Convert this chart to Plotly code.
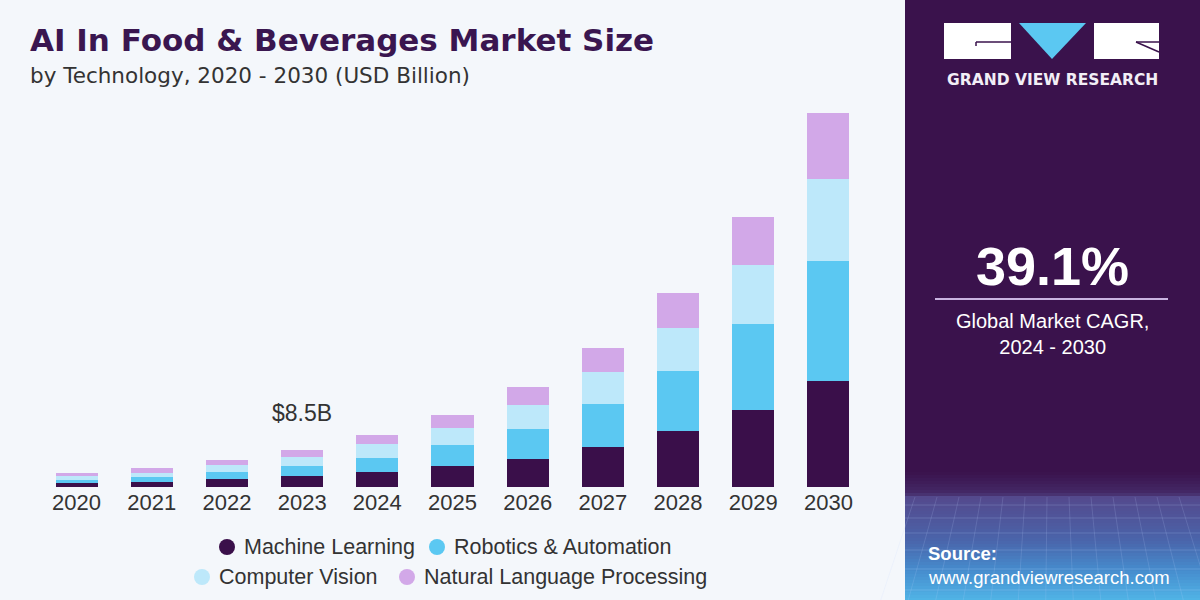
import plotly.graph_objects as go

years = ["2020", "2021", "2022", "2023", "2024", "2025", "2026", "2027", "2028", "2029", "2030"]
machine_learning = [0.93, 1.16, 1.78, 2.55, 3.40, 4.79, 6.55, 9.26, 12.96, 17.82, 24.54]
robotics_automation = [0.76, 1.16, 1.76, 2.31, 3.38, 4.93, 6.94, 9.88, 13.96, 19.84, 27.78]
computer_vision = [0.86, 1.00, 1.55, 2.08, 3.10, 3.87, 5.49, 7.48, 9.95, 13.73, 18.98]
nlp = [0.76, 1.00, 1.16, 1.55, 2.15, 3.01, 4.17, 5.56, 8.10, 11.18, 15.28]

series_names = ["Machine Learning", "Robotics & Automation", "Computer Vision", "Natural Language Processing"]
series_colors = ["#3a0f4a", "#5bc8f2", "#bde8fa", "#d2a8e8"]
series_values = [machine_learning, robotics_automation, computer_vision, nlp]

FONT = "Liberation Sans"
BG = "#f4f7fb"
PANEL = "#3a124c"

fig = go.Figure()
for name, col, vals in zip(series_names, series_colors, series_values):
    fig.add_trace(go.Bar(x=years, y=vals, name=name, marker=dict(color=col, line=dict(width=0)),
                         showlegend=False))

label_year = "2023"
idx = years.index(label_year)
total_label = sum(v[idx] for v in series_values)

shapes = []
annotations = []

L, R, T, B = 39, 866, 100, 487
W, H = R - L, B - T


def px(x):
    return (x - L) / W


def py(y):
    return (B - y) / H


PX0 = 905
# right panel
shapes.append(dict(type="rect", xref="paper", yref="paper",
                   x0=px(PX0), x1=px(1201), y0=py(601), y1=py(-1),
                   line=dict(width=0), fillcolor=PANEL, layer="below"))


def lerp(c1, c2, t):
    return tuple(int(round(a + (b - a) * t)) for a, b in zip(c1, c2))


stops = [(472, (58, 18, 76)), (494, (68, 42, 104)), (496, (84, 72, 140)),
         (540, (74, 100, 170)), (570, (70, 140, 205)), (600, (80, 180, 230))]
y = 472
step = 3
while y < 600:
    ytop, ybot = y, min(y + step, 600)
    ym = (ytop + ybot) / 2
    c = stops[-1][1]
    for j in range(len(stops) - 1):
        if stops[j][0] <= ym <= stops[j + 1][0]:
            t = (ym - stops[j][0]) / (stops[j + 1][0] - stops[j][0])
            c = lerp(stops[j][1], stops[j + 1][1], t)
            break
    shapes.append(dict(type="rect", xref="paper", yref="paper",
                       x0=px(PX0), x1=px(1201),
                       y0=py(ybot + 0.6), y1=py(ytop),
                       line=dict(width=0), fillcolor="rgb(%d,%d,%d)" % c, layer="below"))
    y += step

# faint grid lines in the lower panel
for gy in [505, 518, 533, 550, 569, 590]:
    shapes.append(dict(type="line", xref="paper", yref="paper", x0=px(PX0), x1=px(1200),
                       y0=py(gy), y1=py(gy), line=dict(color="rgba(190,210,255,0.2)", width=1),
                       layer="below"))
for gx in range(915, 1200, 22):
    shapes.append(dict(type="line", xref="paper", yref="paper", x0=px(gx), x1=px(gx + (gx - 1052) * 0.25),
                       y0=py(497), y1=py(600), line=dict(color="rgba(190,210,255,0.16)", width=1),
                       layer="below"))

# logo
shapes.append(dict(type="rect", xref="paper", yref="paper", x0=px(944), x1=px(1011), y0=py(59), y1=py(23),
                   fillcolor="white", line=dict(width=0)))
shapes.append(dict(type="rect", xref="paper", yref="paper", x0=px(1094), x1=px(1159), y0=py(59), y1=py(23),
                   fillcolor="white", line=dict(width=0)))
shapes.append(dict(type="path", xref="paper", yref="paper",
                   path="M %f %f L %f %f L %f %f Z" % (px(1019), py(23), px(1086), py(23), px(1052), py(59)),
                   fillcolor="#5bc8f2", line=dict(width=0)))
shapes.append(dict(type="line", xref="paper", yref="paper", x0=px(976), x1=px(1011), y0=py(42), y1=py(42),
                   line=dict(color=PANEL, width=1.5)))
shapes.append(dict(type="line", xref="paper", yref="paper", x0=px(976), x1=px(976), y0=py(42), y1=py(46),
                   line=dict(color=PANEL, width=1.5)))
shapes.append(dict(type="line", xref="paper", yref="paper", x0=px(1136), x1=px(1159), y0=py(42), y1=py(42),
                   line=dict(color=PANEL, width=1.5)))
shapes.append(dict(type="line", xref="paper", yref="paper", x0=px(1136), x1=px(1159), y0=py(42), y1=py(52),
                   line=dict(color=PANEL, width=1.5)))
annotations.append(dict(xref="paper", yref="paper", x=px(1052), y=py(80), text="<b>GRAND VIEW RESEARCH</b>",
                        showarrow=False, font=dict(family="DejaVu Sans", size=15.5, color="#f2eef6"),
                        xanchor="center", yanchor="middle"))

# CAGR
annotations.append(dict(xref="paper", yref="paper", x=px(1052), y=py(266), text="<b>39.1%</b>",
                        showarrow=False, font=dict(family=FONT, size=54, color="white"),
                        xanchor="center", yanchor="middle"))
shapes.append(dict(type="line", xref="paper", yref="paper", x0=px(935), x1=px(1168), y0=py(299), y1=py(299),
                   line=dict(color="#c9b3e0", width=2)))
annotations.append(dict(xref="paper", yref="paper", x=px(1052), y=py(334),
                        text="Global Market CAGR,<br>2024 - 2030",
                        showarrow=False, font=dict(family=FONT, size=20, color="white"),
                        xanchor="center", yanchor="middle", align="center"))

# source
annotations.append(dict(xref="paper", yref="paper", x=px(926), y=py(553), text="<b>Source:</b>",
                        showarrow=False, font=dict(family=FONT, size=18.5, color="white"),
                        xanchor="left", yanchor="middle"))
annotations.append(dict(xref="paper", yref="paper", x=px(926), y=py(577), text="www.grandviewresearch.com",
                        showarrow=False, font=dict(family=FONT, size=18.5, color="white"),
                        xanchor="left", yanchor="middle"))

# title
annotations.append(dict(xref="paper", yref="paper", x=px(28), y=py(40),
                        text="<b>AI In Food & Beverages Market Size</b>",
                        showarrow=False, font=dict(family="DejaVu Sans", size=31, color="#3a1650"),
                        xanchor="left", yanchor="middle"))
annotations.append(dict(xref="paper", yref="paper", x=px(28), y=py(76),
                        text="by Technology, 2020 - 2030 (USD Billion)",
                        showarrow=False, font=dict(family="DejaVu Sans", size=21.5, color="#333333"),
                        xanchor="left", yanchor="middle"))

# value label
annotations.append(dict(x=idx, y=total_label, xref="x", yref="y",
                        text="$%.1fB" % total_label, showarrow=False,
                        yshift=37, font=dict(family=FONT, size=23, color="#333333"),
                        xanchor="center", yanchor="middle"))

# legend
legend_items = [(227, 547, 0), (437, 547, 1), (202, 577, 2), (407, 577, 3)]
for xc, yc, k in legend_items:
    r = 8
    shapes.append(dict(type="circle", xref="paper", yref="paper",
                       x0=px(xc - r), x1=px(xc + r), y0=py(yc + r), y1=py(yc - r),
                       fillcolor=series_colors[k], line=dict(width=0)))
    annotations.append(dict(xref="paper", yref="paper", x=px(xc + 15), y=py(yc), text=series_names[k],
                            showarrow=False, font=dict(family=FONT, size=21.5, color="#333333"),
                            xanchor="left", yanchor="middle"))

fig.update_layout(
    barmode="stack",
    bargap=0.44,
    width=1200, height=600,
    margin=dict(l=L, r=1200 - R, t=T, b=600 - B),
    paper_bgcolor=BG, plot_bgcolor=BG,
    shapes=shapes, annotations=annotations,
    xaxis=dict(type="category", range=[-0.5, len(years) - 0.5], showgrid=False, showline=False,
               zeroline=False, ticks="", tickfont=dict(family=FONT, size=22, color="#333333")),
    yaxis=dict(range=[0, H / 4.32], visible=False, showgrid=False, zeroline=False),
    showlegend=False,
)

fig.write_html("out.html")
